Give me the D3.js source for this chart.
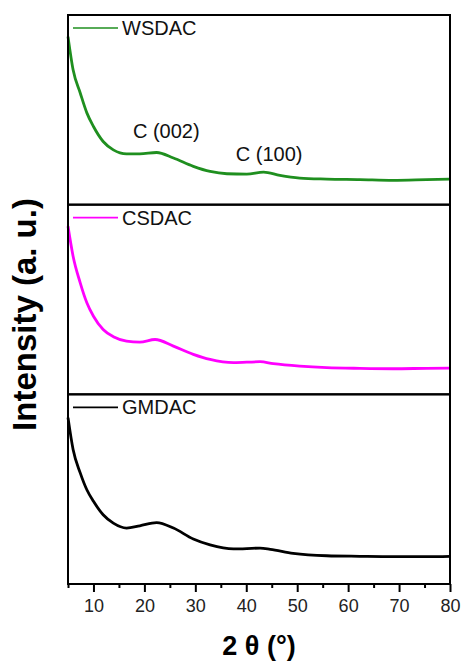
<!DOCTYPE html>
<meta charset="utf-8">
<html>
<script src="https://d3js.org/d3.v7.min.js"></script>
<style>
  body { margin: 0; background: #fff; }
  text { font-family: "Liberation Sans", Arial, sans-serif; }
</style>
<body>
<div id="chart"></div>
<script>

const twoTheta = {
  WSDAC: [5, 6.0, 7.4, 8.7, 10, 11.9, 13.9, 16.5, 19.1, 22.4, 25.7, 29.6, 32.9, 36.2, 40.1, 43.4, 46.6, 50.5, 55.8, 62.3, 68.8, 75.4, 80],
  CSDAC: [5, 6.0, 7.4, 8.7, 10, 11.9, 13.9, 16.5, 19.1, 22.1, 25.7, 29.6, 32.9, 37.5, 42.7, 45.3, 50.5, 55.8, 62.3, 68.8, 75.4, 80],
  GMDAC: [5, 6.0, 7.4, 8.7, 10, 11.9, 13.9, 16.5, 19.1, 22.4, 25.7, 29.6, 32.9, 37.5, 42.7, 44.7, 49.2, 55.8, 62.3, 68.8, 75.4, 80]
};
// relative intensity (a. u.), 0-100 within each panel
const wsdac = [88.6, 71.1, 58.9, 48.4, 41.2, 33.3, 28.9, 26.8, 26.8, 27.5, 24.6, 20.2, 17.5, 16.3, 16.1, 17.2, 15.4, 14.0, 13.5, 13.2, 12.8, 13.2, 13.5];
const csdac = [88.6, 72.8, 58.8, 48.3, 41.2, 34.2, 30.4, 28.1, 27.5, 28.9, 25.4, 21.1, 18.4, 16.7, 17.2, 16.2, 14.9, 14.1, 13.7, 13.5, 13.7, 13.8];
const gmdac = [87.7, 70.9, 58.6, 49.7, 43.6, 36.5, 32.1, 29.5, 30.7, 32.4, 29.5, 23.7, 20.6, 18.5, 18.9, 18.3, 16.2, 14.9, 14.6, 14.4, 14.4, 14.6];

const samples = ["WSDAC", "CSDAC", "GMDAC"];
const colors = ["#1f8f1f", "#ff00ff", "#000000"];
const values = [wsdac, csdac, gmdac];

const majorTicks = [10, 20, 30, 40, 50, 60, 70, 80];
const minorTicks = [5, 15, 25, 35, 45, 55, 65, 75];

// peak labels on top panel (2theta, intensity of baseline)
const peakLabels = ["C (002)", "C (100)"];
const peakPos = [[24.3, 35.3], [44.5, 23.2]];

const W = 461, H = 662;
const plotL = 68, plotR = 450, plotT = 15, plotB = 584;
const panelH = (plotB - plotT) / 3;

const svg = d3.select("#chart").append("svg")
  .attr("width", W).attr("height", H);

const x = d3.scaleLinear().domain([5, 80]).range([plotL, plotR]);

samples.forEach((name, i) => {
  const y0 = plotT + i * panelH;
  const y = d3.scaleLinear().domain([0, 100]).range([y0 + panelH, y0]);
  const pts = twoTheta[name].map((t, j) => [t, values[i][j]]);

  const line = d3.line()
    .x(d => x(d[0]))
    .y(d => y(d[1]))
    .curve(d3.curveMonotoneX);

  svg.append("path")
    .datum(pts)
    .attr("d", line)
    .attr("fill", "none")
    .attr("stroke", colors[i])
    .attr("stroke-width", 2.8)
    .attr("stroke-linejoin", "round");

  // legend
  svg.append("line")
    .attr("x1", 73).attr("x2", 118)
    .attr("y1", y0 + 13).attr("y2", y0 + 13)
    .attr("stroke", colors[i]).attr("stroke-width", 1.6);
  svg.append("text")
    .attr("x", 122).attr("y", y0 + 20)
    .attr("font-size", 20)
    .attr("fill", "#111")
    .text(name);

  if (i === 0) {
    svg.selectAll(".peak")
      .data(peakLabels)
      .join("text")
      .attr("x", (d, k) => x(peakPos[k][0]))
      .attr("y", (d, k) => y(peakPos[k][1]))
      .attr("text-anchor", "middle")
      .attr("font-size", 20)
      .attr("fill", "#111")
      .text(d => d);
  }

  // panel frame
  svg.append("rect")
    .attr("x", plotL).attr("y", y0)
    .attr("width", plotR - plotL).attr("height", panelH)
    .attr("fill", "none")
    .attr("stroke", "#000")
    .attr("stroke-width", 2);
});

// bottom axis, major + minor ticks
const axMajor = svg.append("g")
  .attr("transform", `translate(0,${plotB})`)
  .call(d3.axisBottom(x).tickValues(majorTicks).tickSize(8).tickPadding(7).tickFormat(d3.format("d")));
axMajor.select(".domain").remove();
axMajor.selectAll("line").attr("stroke-width", 2);
axMajor.selectAll("text")
  .attr("font-size", 18)
  .attr("fill", "#222")
  .style("font-family", "'Liberation Sans', Arial, sans-serif");

const axMinor = svg.append("g")
  .attr("transform", `translate(0,${plotB})`)
  .call(d3.axisBottom(x).tickValues(minorTicks).tickSize(4).tickFormat(""));
axMinor.select(".domain").remove();
axMinor.selectAll("line").attr("stroke-width", 2);

// axis titles
svg.append("text")
  .attr("x", 259)
  .attr("y", 655)
  .attr("text-anchor", "middle")
  .attr("font-size", 27)
  .attr("font-weight", "bold")
  .text("2 θ (°)");

svg.append("text")
  .attr("transform", `translate(36,${(plotT + plotB) / 2 + 15}) rotate(-90)`)
  .attr("text-anchor", "middle")
  .attr("font-size", 33)
  .attr("font-weight", "bold")
  .text("Intensity (a. u.)");

</script>
</body>
</html>
